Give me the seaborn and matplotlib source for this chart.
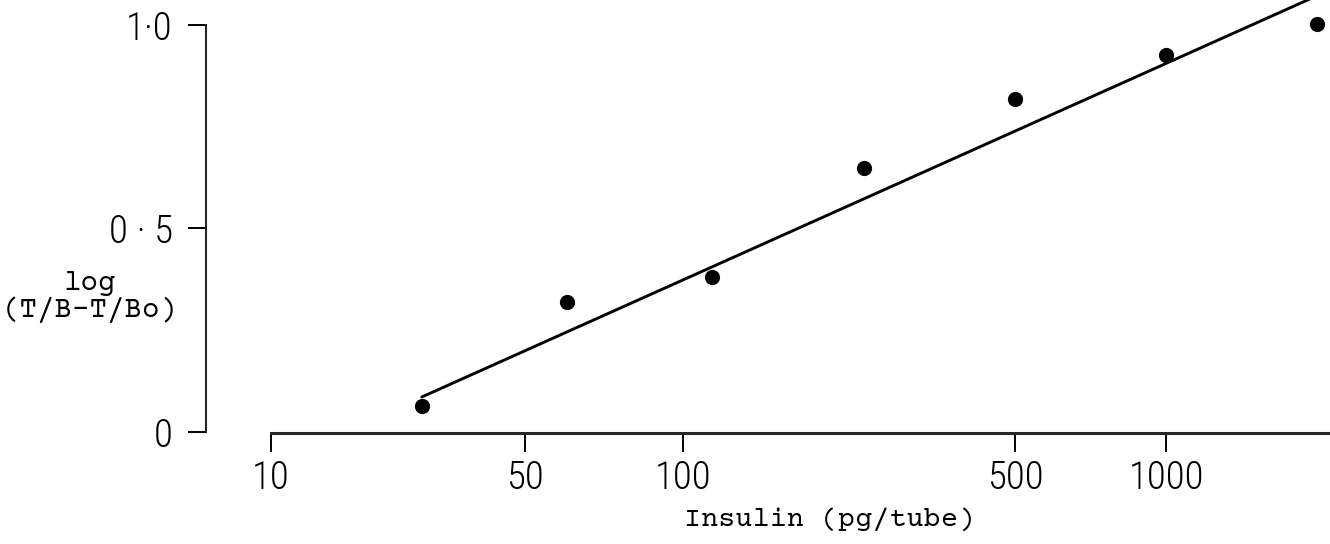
import numpy as np
import matplotlib
matplotlib.use("Agg")
import matplotlib.pyplot as plt
from matplotlib.ticker import FixedLocator, FixedFormatter, NullLocator
import seaborn as sns

# Standard curve: insulin dose vs log(T/B - T/Bo)
insulin_pg = [26, 60, 115, 240, 500, 1000, 2000]
log_ratio = [0.064, 0.319, 0.381, 0.649, 0.818, 0.926, 1.002]

# Fitted straight line (end points)
fit_insulin = [26, 2000]
fit_log_ratio = [0.086, 1.072]

x_ticks = [10, 50, 100, 500, 1000]
x_tick_labels = ["10", "50", "100", "500", "1000"]
y_ticks = [0, 0.5, 1.0]
y_tick_labels = ["0", "0 · 5", "1·0"]

x_label = "Insulin (pg/tube)"
y_label = "log\n(T/B\u2013T/Bo)"

# The printed dose axis is ruled by hand: the decades are not evenly spaced,
# so the scale is piecewise linear in log10(dose) through the ruled marks.
SCALE_LOGS = np.array([0.0, 1.0, np.log10(50), 2.0, np.log10(500), 3.0, 4.0])
SCALE_POS = np.array([-92.0, 271.0, 525.0, 683.0, 1015.0, 1166.0, 1668.0])


def forward(x):
    x = np.asarray(x, dtype=float)
    lx = np.log10(np.clip(x, 1e-6, None))
    return np.interp(lx, SCALE_LOGS, SCALE_POS)


def inverse(p):
    p = np.asarray(p, dtype=float)
    return 10 ** np.interp(p, SCALE_POS, SCALE_LOGS)


sns.set_style("ticks")
plt.rcParams["font.family"] = ["Roboto Condensed", "DejaVu Sans"]
plt.rcParams["font.weight"] = 300

W, H = 1330, 544
fig = plt.figure(figsize=(W / 100, H / 100), dpi=100)
ax_left, ax_right, ax_bottom, ax_top = 206, 1330, 432, 0
ax = fig.add_axes([ax_left / W, (H - ax_bottom) / H,
                   (ax_right - ax_left) / W, (ax_bottom - ax_top) / H])

ax.set_xscale("function", functions=(forward, inverse))
x_min, x_max = float(inverse(ax_left)), float(inverse(ax_right))
ax.set_xlim(x_min, x_max)
ax.set_ylim(0, 432 / 407)

sns.lineplot(x=fit_insulin, y=fit_log_ratio, ax=ax, color="black",
             linewidth=2.1, estimator=None, sort=False)
sns.scatterplot(x=insulin_pg, y=log_ratio, ax=ax, color="black", s=120,
                linewidth=0, clip_on=False, zorder=3)

# Axes: detached, hand-ruled look
for side in ("top", "right"):
    ax.spines[side].set_visible(False)
ax.spines["left"].set_bounds(0, 1.0)
ax.spines["left"].set_linewidth(1.5)
ax.spines["bottom"].set_bounds(10, x_max)
ax.spines["bottom"].set_position(("outward", 1))
ax.spines["bottom"].set_linewidth(2.2)

ax.xaxis.set_major_locator(FixedLocator(x_ticks))
ax.xaxis.set_major_formatter(FixedFormatter(x_tick_labels))
ax.xaxis.set_minor_locator(NullLocator())
ax.yaxis.set_major_locator(FixedLocator(y_ticks))
ax.yaxis.set_major_formatter(FixedFormatter(y_tick_labels))

ax.tick_params(axis="x", direction="out", length=14, width=1.4, pad=5,
               labelsize=28, colors="black")
ax.tick_params(axis="y", direction="out", length=13, width=1.4, pad=11,
               labelsize=28, colors="black")
for lbl in ax.get_xticklabels() + ax.get_yticklabels():
    lbl.set_fontweight(300)

mono = ["Courier Prime", "Liberation Mono", "DejaVu Sans Mono"]
ax.set_xlabel(x_label, fontsize=20.5, family=mono, fontweight="normal",
              color="black", va="center", ha="center")
ax.xaxis.set_label_coords((830 - ax_left) / (ax_right - ax_left), -(519 - 432) / 432)
ax.set_ylabel(y_label, fontsize=21, family=mono, fontweight="normal",
              color="black", rotation=0, va="center", ha="center",
              multialignment="center", linespacing=1.0)
ax.yaxis.set_label_coords((90 - ax_left) / (ax_right - ax_left), (432 - 297) / 432)

ax.set_facecolor("white")
fig.patch.set_facecolor("white")
fig.savefig("out.png", dpi=100, facecolor="white")
